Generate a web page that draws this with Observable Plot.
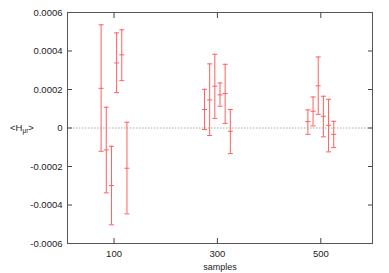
<!DOCTYPE html>
<html><head><meta charset="utf-8">
<script src="https://cdn.jsdelivr.net/npm/d3@7"></script>
<script src="https://cdn.jsdelivr.net/npm/@observablehq/plot@0.6"></script>
<style>
body{margin:0;background:#fff}
svg{font-family:"Liberation Sans",Arial,sans-serif}
</style>
</head><body><div id="chart"></div>
<script>
const samples = [75,85,95,105,115,125, 275,285,295,305,315,325, 475,485,495,505,515,525];
const meanH = [2.06e-4,-1.14e-4,-2.99e-4,3.38e-4,3.80e-4,-2.09e-4,
               0.96e-4,1.46e-4,2.17e-4,1.72e-4,1.79e-4,-0.17e-4,
               0.33e-4,0.87e-4,2.19e-4,0.61e-4,0.14e-4,-0.33e-4];
const lowH  = [-1.21e-4,-3.37e-4,-5.03e-4,1.84e-4,2.46e-4,-4.46e-4,
               -0.08e-4,-0.39e-4,0.50e-4,1.13e-4,0.24e-4,-1.33e-4,
               -0.33e-4,0.11e-4,0.71e-4,-0.46e-4,-1.24e-4,-1.02e-4];
const highH = [5.36e-4,1.08e-4,-0.95e-4,4.94e-4,5.10e-4,0.30e-4,
               2.01e-4,3.33e-4,3.83e-4,2.34e-4,3.31e-4,0.96e-4,
               0.94e-4,1.61e-4,3.69e-4,1.65e-4,1.49e-4,0.35e-4];
const xTicks = [100,300,500];
const yTicks = [-0.0006,-0.0004,-0.0002,0,0.0002,0.0004,0.0006];

const data = samples.map((s,i)=>({x:s, y:meanH[i], lo:lowH[i], hi:highH[i]}));

const red = "#ff5f5f";
const axisColor = "#444";
const cap = {draw(ctx){ ctx.moveTo(-2.5,0); ctx.lineTo(2.5,0); }};
const yFmt = d => Math.abs(d) < 1e-12 ? "0" : d.toFixed(4);

const plot = Plot.plot({
  width: 389,
  height: 273,
  marginLeft: 67,
  marginRight: 17,
  marginTop: 12,
  marginBottom: 30,
  style: {fontSize: "9.5px", fontFamily: "Liberation Sans, Arial, sans-serif", color: "#222", background: "#fff"},
  x: {domain: [10, 600]},
  y: {domain: [-0.0006, 0.0006]},
  marks: [
    Plot.ruleY([0], {stroke: "#aaa", strokeDasharray: "1.5,1.5"}),
    Plot.ruleX(data, {x: "x", y1: "lo", y2: "hi", stroke: red, strokeWidth: 1}),
    Plot.dot(data, {x: "x", y: "lo", symbol: cap, stroke: red, strokeWidth: 1}),
    Plot.dot(data, {x: "x", y: "hi", symbol: cap, stroke: red, strokeWidth: 1}),
    Plot.dot(data, {x: "x", y: "y", symbol: cap, stroke: red, strokeWidth: 1}),
    Plot.axisY(yTicks, {anchor: "left", tickSize: -5, tickPadding: 10, tickFormat: yFmt, stroke: axisColor, label: null}),
    Plot.axisY(yTicks, {anchor: "right", tickSize: -5, tickFormat: () => "", stroke: axisColor, label: null}),
    Plot.axisX(xTicks, {anchor: "bottom", tickSize: -5, tickPadding: 12, tickFormat: d => String(d), stroke: axisColor, label: null}),
    Plot.axisX(xTicks, {anchor: "top", tickSize: -5, tickFormat: () => "", stroke: axisColor, label: null}),
    Plot.frame({stroke: "#555"}),
    Plot.text(["samples"], {frameAnchor: "bottom", dy: 26, fill: "#222", fontSize: 9})
  ]
});

const svg = d3.select(plot);
const lab = svg.append("text")
  .attr("x", 10).attr("y", 131)
  .attr("text-anchor", "start")
  .attr("font-size", 9.5).attr("fill", "#222");
lab.append("tspan").text("<H");
lab.append("tspan").attr("font-size", 6.5).attr("dy", 2).text("μr");
lab.append("tspan").attr("dy", -2).text(">");

document.getElementById("chart").appendChild(plot);
</script>
</body></html>
